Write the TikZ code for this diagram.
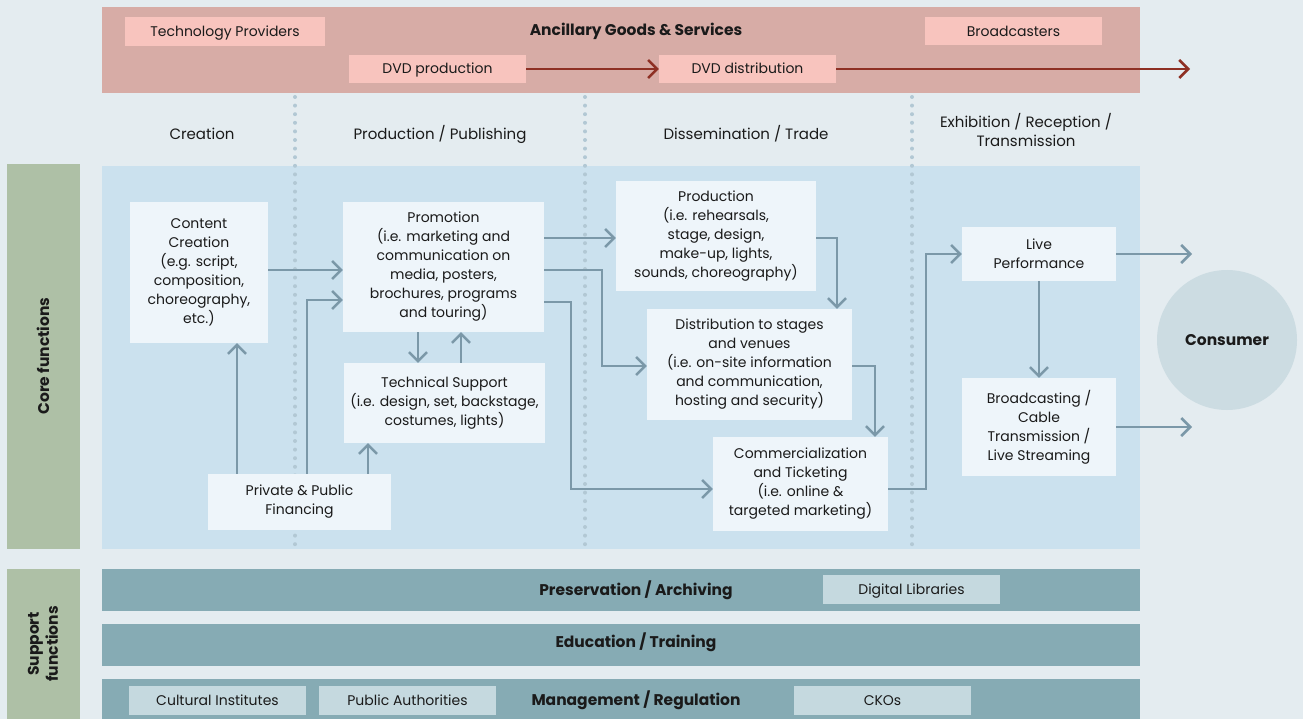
\documentclass[tikz,border=0pt]{standalone}
\usepackage{fontspec}
\setmainfont{Poppins}
\usetikzlibrary{positioning,arrows.meta}
\definecolor{pagebg}{HTML}{E4ECF0}
\definecolor{bandfill}{HTML}{D7ACA6}
\definecolor{pinkfill}{HTML}{F8C4BE}
\definecolor{redline}{HTML}{8E3024}
\definecolor{corefill}{HTML}{CBE1EE}
\definecolor{cardfill}{HTML}{EEF5FA}
\definecolor{flowline}{HTML}{7B98A8}
\definecolor{sidefill}{HTML}{AEC0A6}
\definecolor{barfill}{HTML}{86ABB4}
\definecolor{tagfill}{HTML}{C5D9DF}
\definecolor{userfill}{HTML}{CCDCE2}
\definecolor{dotline}{HTML}{B2C8D4}
\definecolor{ink}{HTML}{1A1A1A}
\newcommand\bodysize{\fontsize{14}{19}\selectfont}
\newcommand\headsize{\fontsize{15}{19}\selectfont}
\newcommand\titlesize{\fontsize{15.5}{19}\selectfont\bfseries}
\tikzset{
	card/.style = {
		fill=cardfill, align=center, inner sep=0pt, text=ink, font=\bodysize
	}
}
\tikzset{
	pinktag/.style = {
		card, fill=pinkfill, minimum width=177, minimum height=28, text height=10pt, text depth=0pt
	}
}
\tikzset{
	bluetag/.style = {
		pinktag, fill=tagfill, minimum height=29
	}
}
\tikzset{
	heading/.style = {
		align=center, text=ink, font=\headsize
	}
}
\tikzset{
	title/.style = {
		heading, font=\titlesize
	}
}
\tikzset{
	bar/.style = {
		fill=barfill, draw=none
	}
}
\tikzset{
	flow/.style = {
		draw=flowline, line width=2.5, -{Straight Barb[length=9pt,width=18pt]}
	}
}
\tikzset{
	redflow/.style = {
		flow, draw=redline
	}
}
\tikzset{
	phase/.style = {
		draw=dotline, line width=4, line cap=round, dash pattern=on 0pt off 8.6pt
	}
}

\begin{document}
\begin{tikzpicture}[x=1pt, y=-1pt]
	\fill[pagebg] (0,0) rectangle (1303,719);
	\useasboundingbox (0,0) rectangle (1303,719);

	% ancillary band
	\fill[bandfill] (102,7) rectangle (1140,93);
	\node[title, text height=11pt, text depth=0pt](Ancillary) at (636,30.5){Ancillary Goods \& Services};
	\node[pinktag, minimum width=200, minimum height=29](TechProviders) at (225,31.5){Technology Providers};
	\node[pinktag](Broadcasters) at (1013.5,31.5){Broadcasters};
	\node[pinktag](DVDProduction) at (437.5,69){DVD production};
	\node[pinktag](DVDDistribution) at (747.5,69){DVD distribution};
	\coordinate (DVDEnd) at (1190,69);
	\draw[redflow] (DVDProduction) -- (DVDDistribution);
	\draw[redflow] (DVDDistribution) -- (DVDEnd);

	% phases
	\node[heading](Creation) at (202,134){Creation};
	\node[heading](Publishing) at (440,134){Production / Publishing};
	\node[heading](Trade) at (746,134){Dissemination / Trade};
	\node[heading](Reception) at (1026,130.5){Exhibition / Reception /\\Transmission};

	% side labels
	\fill[sidefill] (7,164) rectangle (80,549);
	\fill[sidefill] (7,569) rectangle (80,719);
	\node[title, rotate=90](CoreLabel) at (43,356){Core functions};
	\node[title, rotate=90](SupportLabel) at (43,644){Support\\functions};

	% core panel
	\fill[corefill] (102,166) rectangle (1140,549);
	\foreach \px in {295,585,912}
		\draw[phase] (\px,97) -- (\px,549);

	\node[card, minimum width=138, minimum height=141](ContentCreation) at (199,272.5){Content\\Creation\\(e.g. script,\\composition,\\choreography,\\etc.)};
	\node[card, minimum width=201, minimum height=130](Promotion) at (443.5,267){Promotion\\(i.e. marketing and\\communication on\\media, posters,\\brochures, programs\\and touring)};
	\node[card, minimum width=201, minimum height=80](TechSupport) at (444.5,403){Technical Support\\(i.e. design, set, backstage,\\costumes, lights)};
	\node[card, minimum width=183, minimum height=56](Financing) at (299.5,502){Private \& Public\\Financing};
	\node[card, minimum width=200, minimum height=110](Production) at (716,236){Production\\(i.e. rehearsals,\\stage, design,\\make-up, lights,\\sounds, choreography)};
	\node[card, minimum width=205, minimum height=111](Distribution) at (749.5,364.5){Distribution to stages\\and venues\\(i.e. on-site information\\and communication,\\hosting and security)};
	\node[card, minimum width=175, minimum height=94](Ticketing) at (800.5,484){Commercialization\\and Ticketing\\(i.e. online \&\\targeted marketing)};
	\node[card, minimum width=154, minimum height=54](LivePerformance) at (1039,254){Live\\Performance};
	\node[card, minimum width=154, minimum height=98](Broadcasting) at (1039,427){Broadcasting /\\Cable\\Transmission /\\Live Streaming};
	\node[card, circle, fill=userfill, minimum size=140, font=\titlesize](Consumer) at (1227,340){Consumer};
	\coordinate (LiveEnd) at (1192,254);
	\coordinate (BroadcastEnd) at (1192,427);

	\draw[flow] (ContentCreation.east |- 0,270) -- (Promotion.west |- 0,270);
	\draw[flow] (Financing.north -| 237,0) -- (ContentCreation.south -| 237,0);
	\draw[flow] (Financing.north -| 307,0) |- (Promotion.west |- 0,300);
	\draw[flow] (Financing.north -| 368,0) -- (TechSupport.south -| 368,0);
	\draw[flow] (Promotion.south -| 418,0) -- (TechSupport.north -| 418,0);
	\draw[flow] (TechSupport.north -| 461,0) -- (Promotion.south -| 461,0);
	\draw[flow] (Promotion.east |- 0,238) -- (Production.west |- 0,238);
	\draw[flow] (Promotion.east |- 0,270) -- (602,270) |- (Distribution.west |- 0,366);
	\draw[flow] (Promotion.east |- 0,302) -- (571,302) |- (Ticketing.west |- 0,489);
	\draw[flow] (Production.east |- 0,238) -| (Distribution.north -| 837,0);
	\draw[flow] (Distribution.east |- 0,366) -| (Ticketing.north -| 875,0);
	\draw[flow] (Ticketing.east |- 0,489) -- (926,489) |- (LivePerformance.west);
	\draw[flow] (LivePerformance) -- (Broadcasting);
	\draw[flow] (LivePerformance) -- (LiveEnd);
	\draw[flow] (Broadcasting) -- (BroadcastEnd);

	% support functions
	\fill[bar] (102,569) rectangle (1140,611);
	\fill[bar] (102,624) rectangle (1140,666);
	\fill[bar] (102,679) rectangle (1140,719);
	\node[title, text height=11pt, text depth=0pt](Preservation) at (636,589.5){Preservation / Archiving};
	\node[title, text height=11pt, text depth=0pt](Education) at (636,641.5){Education / Training};
	\node[title, text height=11pt, text depth=0pt](Management) at (636,699.5){Management / Regulation};
	\node[bluetag](DigitalLibraries) at (911.5,589.5){Digital Libraries};
	\node[bluetag](CulturalInstitutes) at (217.5,700.5){Cultural Institutes};
	\node[bluetag](PublicAuthorities) at (407.5,700.5){Public Authorities};
	\node[bluetag](CKOs) at (882.5,700.5){CKOs};
\end{tikzpicture}
\end{document}
